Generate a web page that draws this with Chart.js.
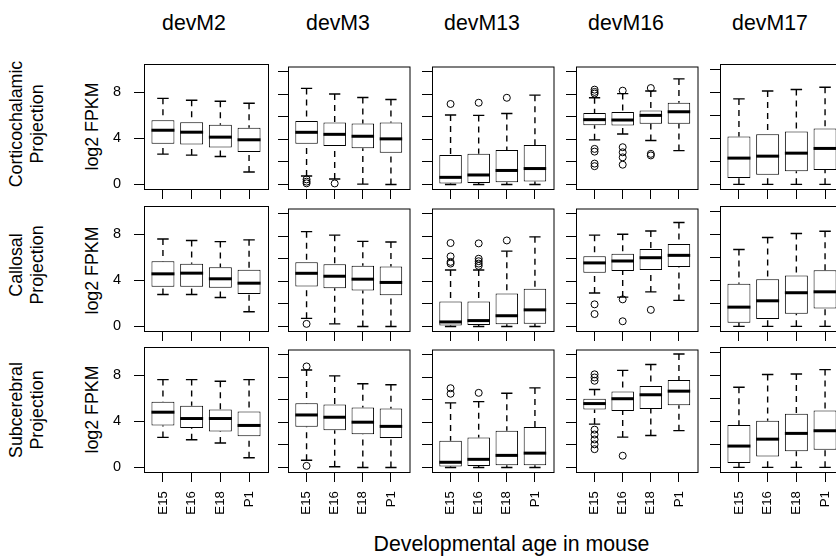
<!DOCTYPE html>
<html>
<head>
<meta charset="utf-8">
<script src="https://cdn.jsdelivr.net/npm/chart.js@4.4.1/dist/chart.umd.min.js"></script>
<style>
  html, body { margin: 0; padding: 0; background: #fff; overflow: hidden; }
  body { width: 836px; height: 558px; position: relative; font-family: "Liberation Sans", Arial, sans-serif; color: #000; }
  canvas { position: absolute; }
  .lbl { position: absolute; white-space: nowrap; text-align: center; }
  .title { font-size: 21.3px; line-height: 24px; width: 200px; }
  .rot { font-size: 17.8px; line-height: 21px; width: 200px; transform: rotate(-90deg); }
</style>
</head>
<body>
<script>
const modules = ['devM2', 'devM3', 'devM13', 'devM16', 'devM17'];
const projections = [['Corticochalamic', 'Projection'], ['Callosal', 'Projection'], ['Subcerebral', 'Projection']];
const ages = ['E15', 'E16', 'E18', 'P1'];
const yLabel = 'log2 FPKM';
const xTitle = 'Developmental age in mouse';
const yTicksFirst = [0, 4, 8];
const yTicksOther = [0, 2, 4, 6, 8, 10];

// box statistics, indexed [projection][module][age]
const lower = [
  [[2.63, 2.54, 2.42, 1.07], [0.75, 0.49, 0.03, 0], [0, 0, 0, 0], [3.95, 4.47, 3.90, 3.00], [0, 0, 0, 0]],
  [[2.77, 2.77, 2.51, 1.27], [0.72, 0.23, 0, 0], [0, 0, 0, 0], [2.97, 2.60, 3.06, 2.31], [0, 0, 0, 0]],
  [[2.60, 2.40, 2.11, 0.84], [0.64, 0.06, 0, 0], [0, 0, 0, 0], [3.84, 2.69, 2.83, 3.26], [0, 0, 0, 0]]
];
const q1 = [
  [[3.52, 3.46, 3.20, 2.80], [3.61, 3.41, 3.20, 2.80], [0.09, 0.12, 0.20, 0.26], [5.25, 5.22, 5.37, 5.37], [0.55, 0.84, 1.13, 1.24]],
  [[3.44, 3.44, 3.35, 2.80], [3.55, 3.38, 3.18, 2.77], [0.09, 0.12, 0.20, 0.23], [4.76, 4.91, 5.00, 5.26], [0.32, 0.64, 1.10, 1.56]],
  [[3.64, 3.41, 3.12, 2.71], [3.61, 3.29, 2.95, 2.60], [0.09, 0.12, 0.20, 0.20], [5.14, 5.00, 5.17, 5.52], [0.38, 0.95, 1.41, 1.53]]
];
const median = [
  [[4.70, 4.53, 4.10, 3.87], [4.62, 4.44, 4.27, 4.04], [0.63, 0.84, 1.24, 1.41], [5.74, 5.71, 6.12, 6.44], [2.28, 2.45, 2.71, 3.12]],
  [[4.56, 4.62, 4.13, 3.75], [4.71, 4.45, 4.19, 3.90], [0.40, 0.52, 0.95, 1.47], [5.63, 5.80, 6.09, 6.30], [1.67, 2.22, 2.92, 3.00]],
  [[4.79, 4.24, 4.24, 3.64], [4.65, 4.45, 4.01, 3.64], [0.46, 0.72, 1.07, 1.27], [5.66, 6.09, 6.44, 6.76], [1.85, 2.45, 2.95, 3.18]]
];
const q3 = [
  [[5.57, 5.40, 5.17, 4.91], [5.63, 5.48, 5.40, 5.48], [2.60, 2.71, 3.06, 3.49], [6.32, 6.41, 6.55, 7.24], [4.16, 4.36, 4.59, 4.85]],
  [[5.66, 5.43, 5.14, 4.91], [5.69, 5.52, 5.37, 5.31], [2.22, 2.22, 2.92, 3.35], [6.21, 6.44, 6.87, 7.31], [3.70, 4.10, 4.42, 4.88]],
  [[5.69, 5.34, 5.02, 4.85], [5.69, 5.57, 5.31, 5.23], [2.37, 2.66, 3.26, 3.58], [6.09, 6.73, 7.22, 7.74], [3.67, 4.04, 4.65, 4.94]]
];
const upper = [
  [[7.47, 7.30, 7.21, 7.04], [8.51, 8.02, 7.71, 7.53], [6.15, 6.12, 6.29, 7.91], [7.68, 8.05, 8.28, 9.35], [7.42, 8.11, 8.23, 8.43]],
  [[7.59, 7.45, 7.36, 7.51], [8.40, 8.09, 7.54, 7.48], [5.00, 5.00, 6.67, 7.94], [8.09, 8.17, 8.46, 9.21], [6.67, 7.71, 8.06, 8.26]],
  [[7.62, 7.62, 7.48, 7.62], [8.63, 8.11, 7.42, 7.33], [5.72, 5.83, 6.58, 7.05], [6.90, 8.60, 9.12, 10.05], [6.96, 8.06, 8.11, 8.49]]
];
const outliers = [
  [[[], [], [], []],
   [[0.45, 0.25, 0.1], [0.09], [], []],
   [[7.13], [7.24], [7.68], []],
   [[8.40, 8.20, 8.05, 3.15, 2.91, 1.85, 1.62], [8.31, 3.30, 2.85, 2.40, 1.75], [8.54, 2.71, 2.57], []],
   [[], [], [], []]],
  [[[], [], [], []],
   [[0.23], [], [], []],
   [[7.39, 6.21, 5.72, 5.57], [7.36, 6.00, 5.78, 5.57, 5.37], [7.62], []],
   [[1.96, 1.10], [2.40, 0.46], [1.47], []],
   [[], [], [], []]],
  [[[], [], [], []],
   [[8.95, 0.14], [], [], []],
   [[7.02, 6.53], [6.61], [], []],
   [[8.25, 7.97, 7.68, 3.35, 2.92, 2.48, 2.05, 1.62], [1.04], [], []],
   [[], [], [], []]]
];

const panelLeft = [144, 288, 432, 576, 720];
const panelTop = [64, 206, 347];
const PW = 124, PH = 125;

Chart.defaults.font.family = '"Liberation Sans", Arial, sans-serif';
Chart.defaults.font.size = 13.3;
Chart.defaults.color = '#000';

function addText(cls, text, left, top, html) {
  const d = document.createElement('div');
  d.className = 'lbl ' + cls;
  if (html) d.innerHTML = text; else d.textContent = text;
  d.style.left = left + 'px';
  d.style.top = top + 'px';
  document.body.appendChild(d);
  return d;
}

// whiskers, staples, medians and the panel frame, placed through the chart scales
function boxParts(r, c) {
  return {
    id: 'boxparts',
    afterDatasetsDraw(chart) {
      const { ctx, chartArea: a, scales: { x, y } } = chart;
      const u = x.getPixelForValue(1) - x.getPixelForValue(0);
      ctx.save();
      ctx.strokeStyle = '#000';
      ages.forEach((_, i) => {
        const cx = x.getPixelForValue(i + 1);
        ctx.lineWidth = 1.4;
        ctx.setLineDash([6, 5]);
        ctx.beginPath();
        ctx.moveTo(cx, y.getPixelForValue(upper[r][c][i]));
        ctx.lineTo(cx, y.getPixelForValue(q3[r][c][i]));
        ctx.moveTo(cx, y.getPixelForValue(lower[r][c][i]));
        ctx.lineTo(cx, y.getPixelForValue(q1[r][c][i]));
        ctx.stroke();
        ctx.setLineDash([]);
        ctx.beginPath();
        [upper[r][c][i], lower[r][c][i]].forEach((v) => {
          const py = y.getPixelForValue(v);
          ctx.moveTo(cx - 0.2 * u, py);
          ctx.lineTo(cx + 0.2 * u, py);
        });
        ctx.stroke();
        ctx.lineWidth = 3;
        const pm = y.getPixelForValue(median[r][c][i]);
        ctx.beginPath();
        ctx.moveTo(cx - 0.4 * u, pm);
        ctx.lineTo(cx + 0.4 * u, pm);
        ctx.stroke();
      });
      ctx.lineWidth = 1;
      ctx.strokeRect(a.left + 0.5, a.top + 0.5, a.right - a.left, a.bottom - a.top);
      ctx.restore();
    }
  };
}

const tickGrid = { offset: false, drawOnChartArea: false, drawTicks: true, tickLength: 10, tickColor: '#000', tickWidth: 1 };

function zeroPad(s) {
  s.paddingLeft = 0; s.paddingRight = 0; s.paddingTop = 0; s.paddingBottom = 0;
}

projections.forEach((proj, r) => {
  modules.forEach((mod, c) => {
    const yW = c === 0 ? 40 : 12;
    const xH = r === projections.length - 1 ? 50 : 12;
    const cv = document.createElement('canvas');
    cv.width = yW + PW + 2;
    cv.height = 2 + PH + xH;
    cv.style.left = (panelLeft[c] - yW) + 'px';
    cv.style.top = (panelTop[r] - 2) + 'px';
    document.body.appendChild(cv);

    const boxes = ages.map((_, i) => ({ x: i + 1, y: [q1[r][c][i], q3[r][c][i]] }));
    const points = outliers[r][c].flatMap((vals, i) => vals.map((v) => ({ x: i + 1, y: v })));

    new Chart(cv, {
      type: 'bar',
      data: {
        datasets: [
          {
            data: boxes,
            backgroundColor: '#fff',
            borderColor: '#000',
            borderWidth: 1,
            borderSkipped: false,
            barPercentage: 0.8,
            categoryPercentage: 1
          },
          {
            type: 'scatter',
            data: points,
            pointRadius: 3.5,
            pointHoverRadius: 3.5,
            pointBorderWidth: 1,
            borderColor: '#000',
            backgroundColor: 'rgba(0,0,0,0)'
          }
        ]
      },
      options: {
        responsive: false,
        animation: false,
        devicePixelRatio: 1,
        events: [],
        layout: { padding: { top: 2, right: 2, left: 0, bottom: 0 } },
        plugins: { legend: { display: false }, tooltip: { enabled: false } },
        scales: {
          x: {
            type: 'linear',
            min: 0.34,
            max: 4.66,
            offset: false,
            afterBuildTicks: (s) => { s.ticks = ages.map((_, i) => ({ value: i + 1 })); },
            afterFit: (s) => { s.height = xH; zeroPad(s); },
            grid: tickGrid,
            border: { display: false },
            ticks: {
              display: r === projections.length - 1,
              autoSkip: false,
              minRotation: 90,
              maxRotation: 90,
              padding: 9,
              callback: (v) => ages[v - 1]
            }
          },
          y: {
            type: 'linear',
            min: -0.402,
            max: 10.45,
            afterBuildTicks: (s) => { s.ticks = (c === 0 ? yTicksFirst : yTicksOther).map((v) => ({ value: v })); },
            afterFit: (s) => { s.width = yW; zeroPad(s); },
            grid: tickGrid,
            border: { display: false },
            ticks: { display: c === 0, padding: 13, font: { size: 14.5 }, callback: (v) => String(v) }
          }
        }
      },
      plugins: [boxParts(r, c)]
    });
  });
});

// column headers
modules.forEach((m, c) => addText('title', m, 194 + 144 * c - 100, 11));

// row labels and y axis labels
const rowCenter = [123.5, 265, 409.5];
const yLabCenter = [126, 270, 409];
projections.forEach((p, r) => {
  addText('rot', p.join('<br>'), 27.4 - 100, rowCenter[r] - 21, true);
  addText('rot', yLabel, 92 - 100, yLabCenter[r] - 10.5);
});

// bottom title
addText('title', xTitle, 511.5 - 200, 532).style.width = '400px';
</script>
</body>
</html>
